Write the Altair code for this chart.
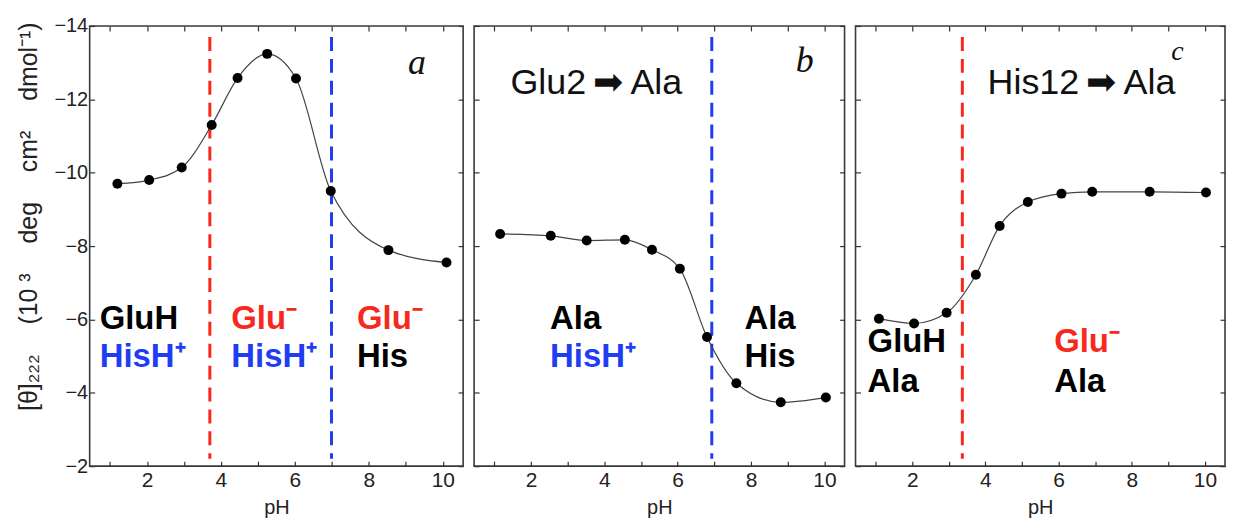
import altair as alt
import pandas as pd

# ---------------- data ----------------
ph_a = [1.2, 2.06, 2.94, 3.75, 4.45, 5.25, 6.03, 6.97, 8.53, 10.1]
theta_a = [-9.7, -9.8, -10.14, -11.3, -12.58, -13.24, -12.57, -9.5, -7.89, -7.55]
ph_b = [1.16, 2.54, 3.52, 4.56, 5.30, 6.06, 6.80, 7.6, 8.81, 10.04]
theta_b = [-8.33, -8.28, -8.15, -8.17, -7.9, -7.38, -5.52, -4.26, -3.74, -3.87]
ph_c = [1.09, 2.05, 2.94, 3.74, 4.39, 5.16, 6.08, 6.92, 8.49, 10.03]
theta_c = [-6.02, -5.89, -6.18, -7.22, -8.55, -9.2, -9.43, -9.48, -9.48, -9.46]

RED = "#f7281d"
BLUE = "#1f3df2"

# pKa marker lines: (pH, colour)
pka_a = [(3.7, RED), (6.99, BLUE)]
pka_b = [(6.93, BLUE)]
pka_c = [(3.37, RED)]

# state labels: (pH, theta, text, colour)
states_a = [(0.72, -6.0, "GluH", "black"), (0.72, -4.97, "HisH⁺", BLUE),
            (4.28, -6.0, "Glu⁻", RED), (4.28, -4.97, "HisH⁺", BLUE),
            (7.68, -6.0, "Glu⁻", RED), (7.68, -4.97, "His", "black")]
states_b = [(2.52, -6.0, "Ala", "black"), (2.52, -4.97, "HisH⁺", BLUE),
            (7.82, -6.0, "Ala", "black"), (7.82, -4.97, "His", "black")]
states_c = [(0.78, -5.39, "GluH", "black"), (0.78, -4.3, "Ala", "black"),
            (5.88, -5.39, "Glu⁻", RED), (5.88, -4.3, "Ala", "black")]

THIN = "\u2009"
titles_b = [(1.44, -12.45, "Glu2" + THIN + "➡" + THIN + "Ala")]
titles_c = [(4.06, -12.45, "His12" + THIN + "➡" + THIN + "Ala")]

# panel letters: (pH, theta, font size)
letters = {"a": (9.3, -13.0, 36), "b": (9.46, -13.05, 36), "c": (9.25, -13.3, 28)}

x_ticks = list(range(1, 11))
y_ticks = [-14, -12, -10, -8, -6, -4, -2]
dash_top, dash_bottom = -13.7, -2.2

FONT = "Liberation Sans"
AXC = "#333333"
GAP = "\u2003\u2009"
Y_TITLE = "[θ]₂₂₂" + GAP + "(10 ³" + GAP + "deg" + GAP + "cm²" + GAP + "dmol⁻¹)"

xs = alt.Scale(domain=[0.45, 10.55], nice=False, zero=False)
ys = alt.Scale(domain=[-14, -2], reverse=True, nice=False, zero=False)


def panel(ph, th, pka, states, titles, letter, first, width):
    df = pd.DataFrame({"pH": ph, "theta": th})
    x_axis = alt.Axis(values=x_ticks, labelExpr="datum.value % 2 == 0 ? datum.label : ''",
                      tickSize=5, offset=-5, domain=False, grid=False, labelPadding=3,
                      title="pH", titleFontSize=20, titleFontWeight="normal", titleFont=FONT,
                      titlePadding=8, labelFontSize=21, labelFont=FONT, labelColor="#222",
                      tickColor=AXC, tickWidth=1.2, titleColor="#222")
    if first:
        y_axis = alt.Axis(values=y_ticks, tickSize=5, offset=-5, domain=False, grid=False,
                          labelPadding=2, labelFontSize=20, labelFont=FONT, labelColor="#222",
                          title=Y_TITLE, titleFontSize=25,
                          titleFontWeight="normal", titleFont=FONT, titlePadding=12,
                          titleY=191, titleColor="#222", tickColor=AXC, tickWidth=1.2)
    else:
        y_axis = alt.Axis(values=y_ticks, tickSize=5, offset=-5, domain=False, grid=False,
                          labels=False, title=None, tickColor=AXC, tickWidth=1.2)
    line = alt.Chart(df).mark_line(interpolate="monotone", color="#444", strokeWidth=1.2).encode(
        x=alt.X("pH:Q", scale=xs, axis=x_axis),
        y=alt.Y("theta:Q", scale=ys, axis=y_axis),
    )
    pts = alt.Chart(df).mark_circle(size=100, color="black", opacity=1).encode(
        x=alt.X("pH:Q", scale=xs, axis=alt.Axis(orient="top", values=x_ticks, labels=False,
                                                 tickSize=5, offset=-5, domain=False, grid=False,
                                                 title=None, tickColor=AXC, tickWidth=1.2)),
        y=alt.Y("theta:Q", scale=ys, axis=alt.Axis(orient="right", values=y_ticks, labels=False,
                                                    tickSize=5, offset=-5, domain=False,
                                                    grid=False, title=None, tickColor=AXC,
                                                    tickWidth=1.2)),
    )
    vdf = pd.DataFrame({"pH": [p for p, c in pka], "col": [c for p, c in pka],
                        "top": [dash_top] * len(pka), "bot": [dash_bottom] * len(pka)})
    rules = alt.Chart(vdf).mark_rule(strokeWidth=3, strokeDash=[14, 8]).encode(
        x=alt.X("pH:Q", scale=xs, axis=None),
        y=alt.Y("top:Q", scale=ys, axis=None),
        y2="bot:Q",
        color=alt.Color("col:N", scale=None),
    )
    sdf = pd.DataFrame(states, columns=["pH", "theta", "txt", "col"])
    st = alt.Chart(sdf).mark_text(align="left", baseline="middle", font=FONT, fontSize=33,
                                  fontWeight="bold").encode(
        x=alt.X("pH:Q", scale=xs, axis=None),
        y=alt.Y("theta:Q", scale=ys, axis=None),
        text="txt:N",
        color=alt.Color("col:N", scale=None),
    )
    lx, ly, lsize = letters[letter]
    ldf = pd.DataFrame([(lx, ly, letter)], columns=["pH", "theta", "txt"])
    lt = alt.Chart(ldf).mark_text(align="center", baseline="middle", font="Liberation Serif",
                                  fontSize=lsize, fontStyle="italic", color="#111").encode(
        x=alt.X("pH:Q", scale=xs, axis=None),
        y=alt.Y("theta:Q", scale=ys, axis=None),
        text="txt:N",
    )
    layers = [rules, line, pts, st, lt]
    if titles:
        tdf = pd.DataFrame(titles, columns=["pH", "theta", "txt"])
        tt = alt.Chart(tdf).mark_text(align="left", baseline="middle", font=FONT, fontSize=36,
                                      color="#111").encode(
            x=alt.X("pH:Q", scale=xs, axis=None),
            y=alt.Y("theta:Q", scale=ys, axis=None),
            text="txt:N",
        )
        layers.append(tt)
    return alt.layer(*layers).resolve_axis(x="independent", y="independent").properties(
        width=width, height=442)


pa = panel(ph_a, theta_a, pka_a, states_a, None, "a", True, 375)
pb = panel(ph_b, theta_b, pka_b, states_b, titles_b, "b", False, 372)
pc = panel(ph_c, theta_c, pka_c, states_c, titles_c, "c", False, 371)

chart = alt.hconcat(pa, pb, pc, spacing=7).properties(
    padding={"left": 8, "top": 6, "right": 0, "bottom": 0}
).configure(background="white").configure_view(stroke="#3a3a3a", strokeWidth=1.6)

chart.save("out.html", embed_options={"renderer": "svg", "actions": False})
